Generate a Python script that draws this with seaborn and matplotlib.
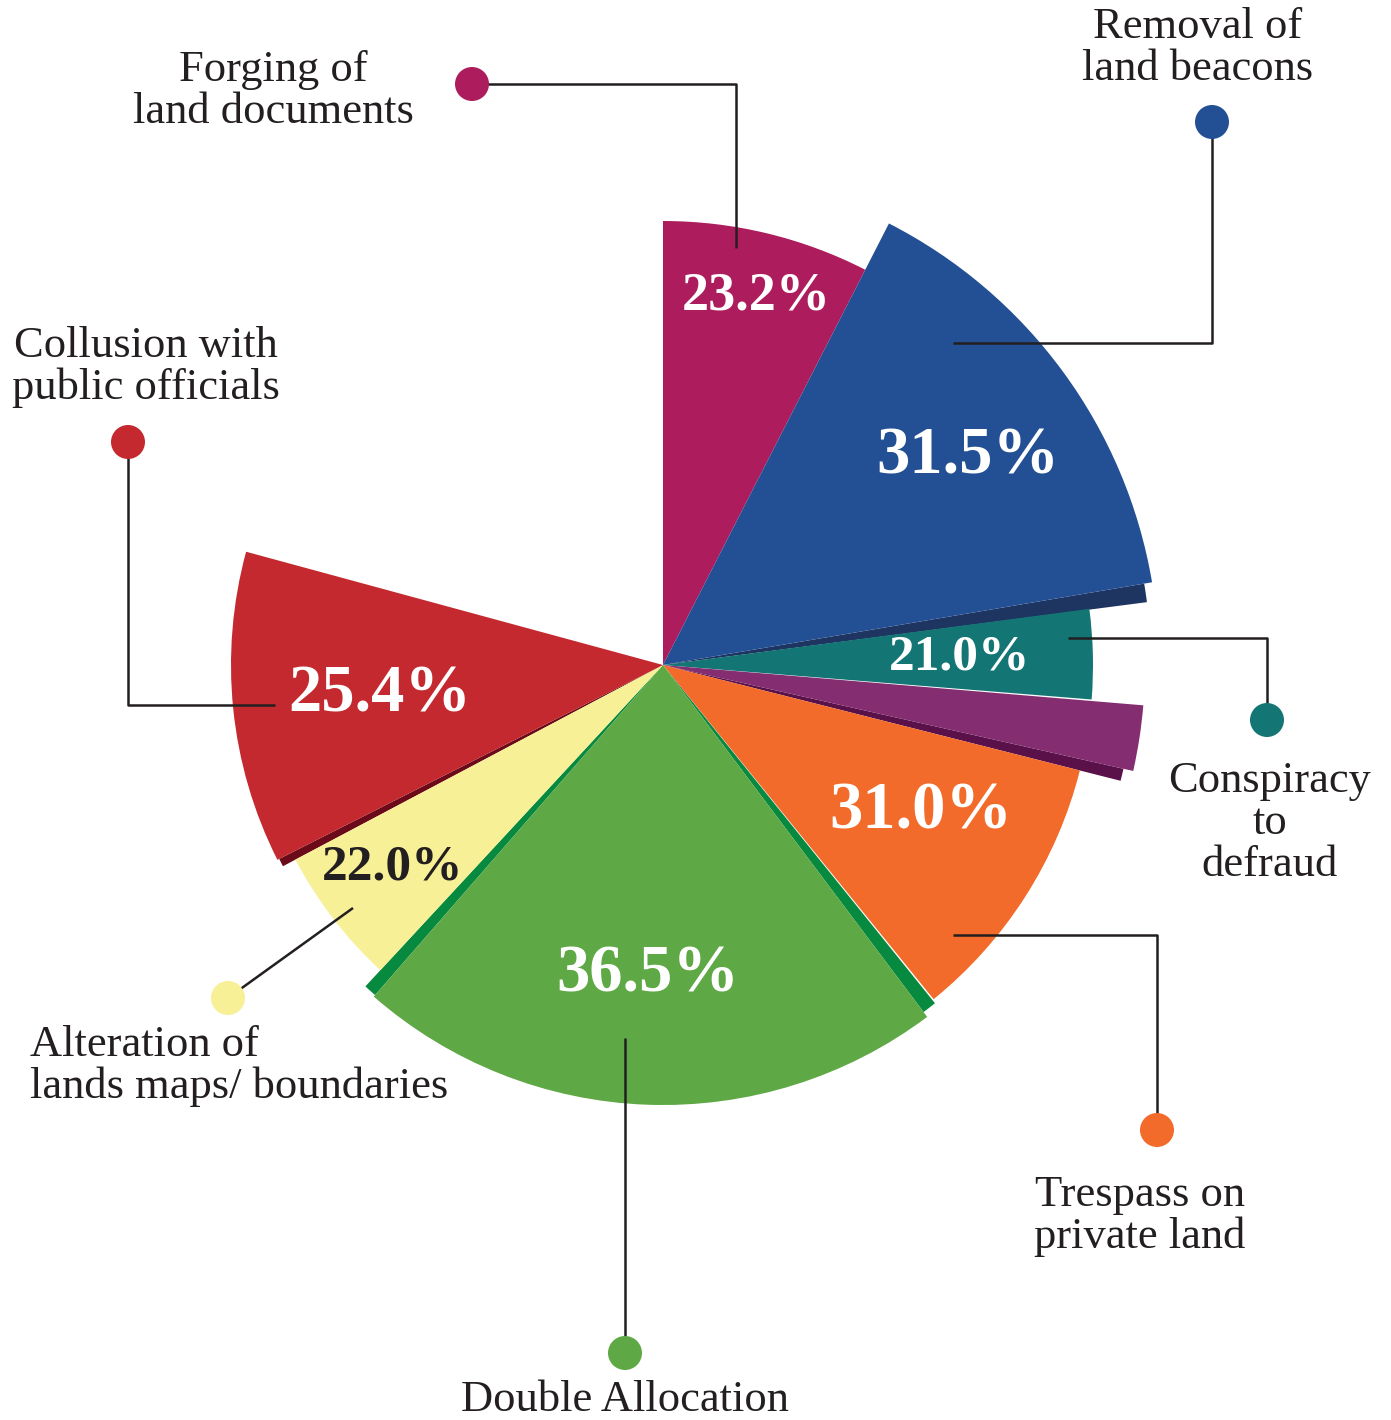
import numpy as np
import matplotlib
matplotlib.use("Agg")
import matplotlib.pyplot as plt
from matplotlib.patches import Circle
import seaborn as sns

sns.set_theme(style="white")
plt.rcParams["font.family"] = ["Liberation Serif", "DejaVu Serif"]

# ---- data -------------------------------------------------------------
categories = [
    "Forging of\nland documents",
    "Removal of\nland beacons",
    "Conspiracy\nto\ndefraud",
    "",
    "Trespass on\nprivate land",
    "Double Allocation",
    "Alteration of\nlands maps/ boundaries",
    "Collusion with\npublic officials",
]
shares = [23.2, 31.5, 21.0, None, 31.0, 36.5, 22.0, 25.4]

# angular extent (degrees, counter-clockwise from east) and reach of each sector
sector_start = [62.9, 9.6, -4.6, -12.7, -51.0, -131.1, 207.9, 164.8]
sector_end = [90.0, 62.9, 7.5, -4.8, -14.2, -53.1, 227.2, 206.8]
sector_reach = [444, 496, 430, 482, 430, 440, 416, 432]

palette = ["#AD1D5D", "#234F94", "#137574", "#842D70",
           "#F26B2A", "#5EA845", "#F7F096", "#C4292F"]
label_colors = ["white", "white", "white", None,
                "white", "white", "#231F20", "white"]

# darker side faces giving the raised sectors some depth
side_start = [7.4, -14.2, -53.1, 227.2, 206.8]
side_end = [9.6, -12.7, -51.2, 228.9, 207.9]
side_reach = [488, 472, 434, 438, 430]
side_colors = ["#1E3461", "#5A1048", "#078A3F", "#078A3F", "#6B0A18"]

INK = "#231F20"
W, H = 1391, 1420
CX, CY = 663, 665
RMAX = 560

fig = plt.figure(figsize=(W / 100, H / 100), dpi=100, facecolor="white")

# ---- sectors on a polar axes ------------------------------------------
ax = fig.add_axes([(CX - RMAX) / W, (H - CY - RMAX) / H,
                   2 * RMAX / W, 2 * RMAX / H], projection="polar")
ax.set_ylim(0, RMAX)
ax.set_axis_off()

ax.bar(np.deg2rad(side_start), side_reach,
       width=np.deg2rad(np.subtract(side_end, side_start)),
       align="edge", color=side_colors, linewidth=0, zorder=1)
ax.bar(np.deg2rad(sector_start), sector_reach,
       width=np.deg2rad(np.subtract(sector_end, sector_start)),
       align="edge", color=palette, linewidth=0, zorder=2)

# ---- annotations on a pixel-space overlay ------------------------------
ov = fig.add_axes([0, 0, 1, 1])
ov.set_xlim(0, W)
ov.set_ylim(H, 0)
ov.set_axis_off()
ov.patch.set_visible(False)

pct_pos = [(756, 297), (968, 457), (960, 658), None,
           (921, 812), (648, 975), (393, 868), (380, 695)]
pct_size = [39, 48, 37, None, 48, 48, 37, 48]
for s, pos, fs, c in zip(shares, pct_pos, pct_size, label_colors):
    if s is None:
        continue
    ov.text(pos[0], pos[1], f"{s:.1f}%", ha="center", va="center",
            fontsize=fs, fontweight="bold", color=c)

leaders = [
    [(472, 84), (736, 84), (736, 248)],
    [(1212, 122), (1212, 343), (953, 343)],
    [(1267, 720), (1267, 638), (1068, 638)],
    None,
    [(1157, 1130), (1157, 935), (953, 935)],
    [(625, 1353), (625, 1038)],
    [(228, 998), (353, 908)],
    [(128, 442), (128, 705), (275, 705)],
]
for path, col in zip(leaders, palette):
    if path is None:
        continue
    xs, ys = zip(*path)
    ov.plot(xs, ys, color=INK, lw=1.8, solid_capstyle="butt", zorder=3)
    ov.add_patch(Circle(path[0], 17, color=col, lw=0, zorder=4))

name_pos = [(273, 91, "center"), (1198, 48, "center"), (1270, 823, "center"),
            None, (1140, 1216, "center"), (625, 1400, "center"),
            (30, 1066, "left"), (146, 367, "center")]
for name, pos in zip(categories, name_pos):
    if pos is None:
        continue
    x, y, ha = pos
    ov.text(x, y, name, ha=ha, va="center", multialignment=ha,
            fontsize=32, color=INK, linespacing=1.07)

fig.savefig("out.png", dpi=100, facecolor="white")
